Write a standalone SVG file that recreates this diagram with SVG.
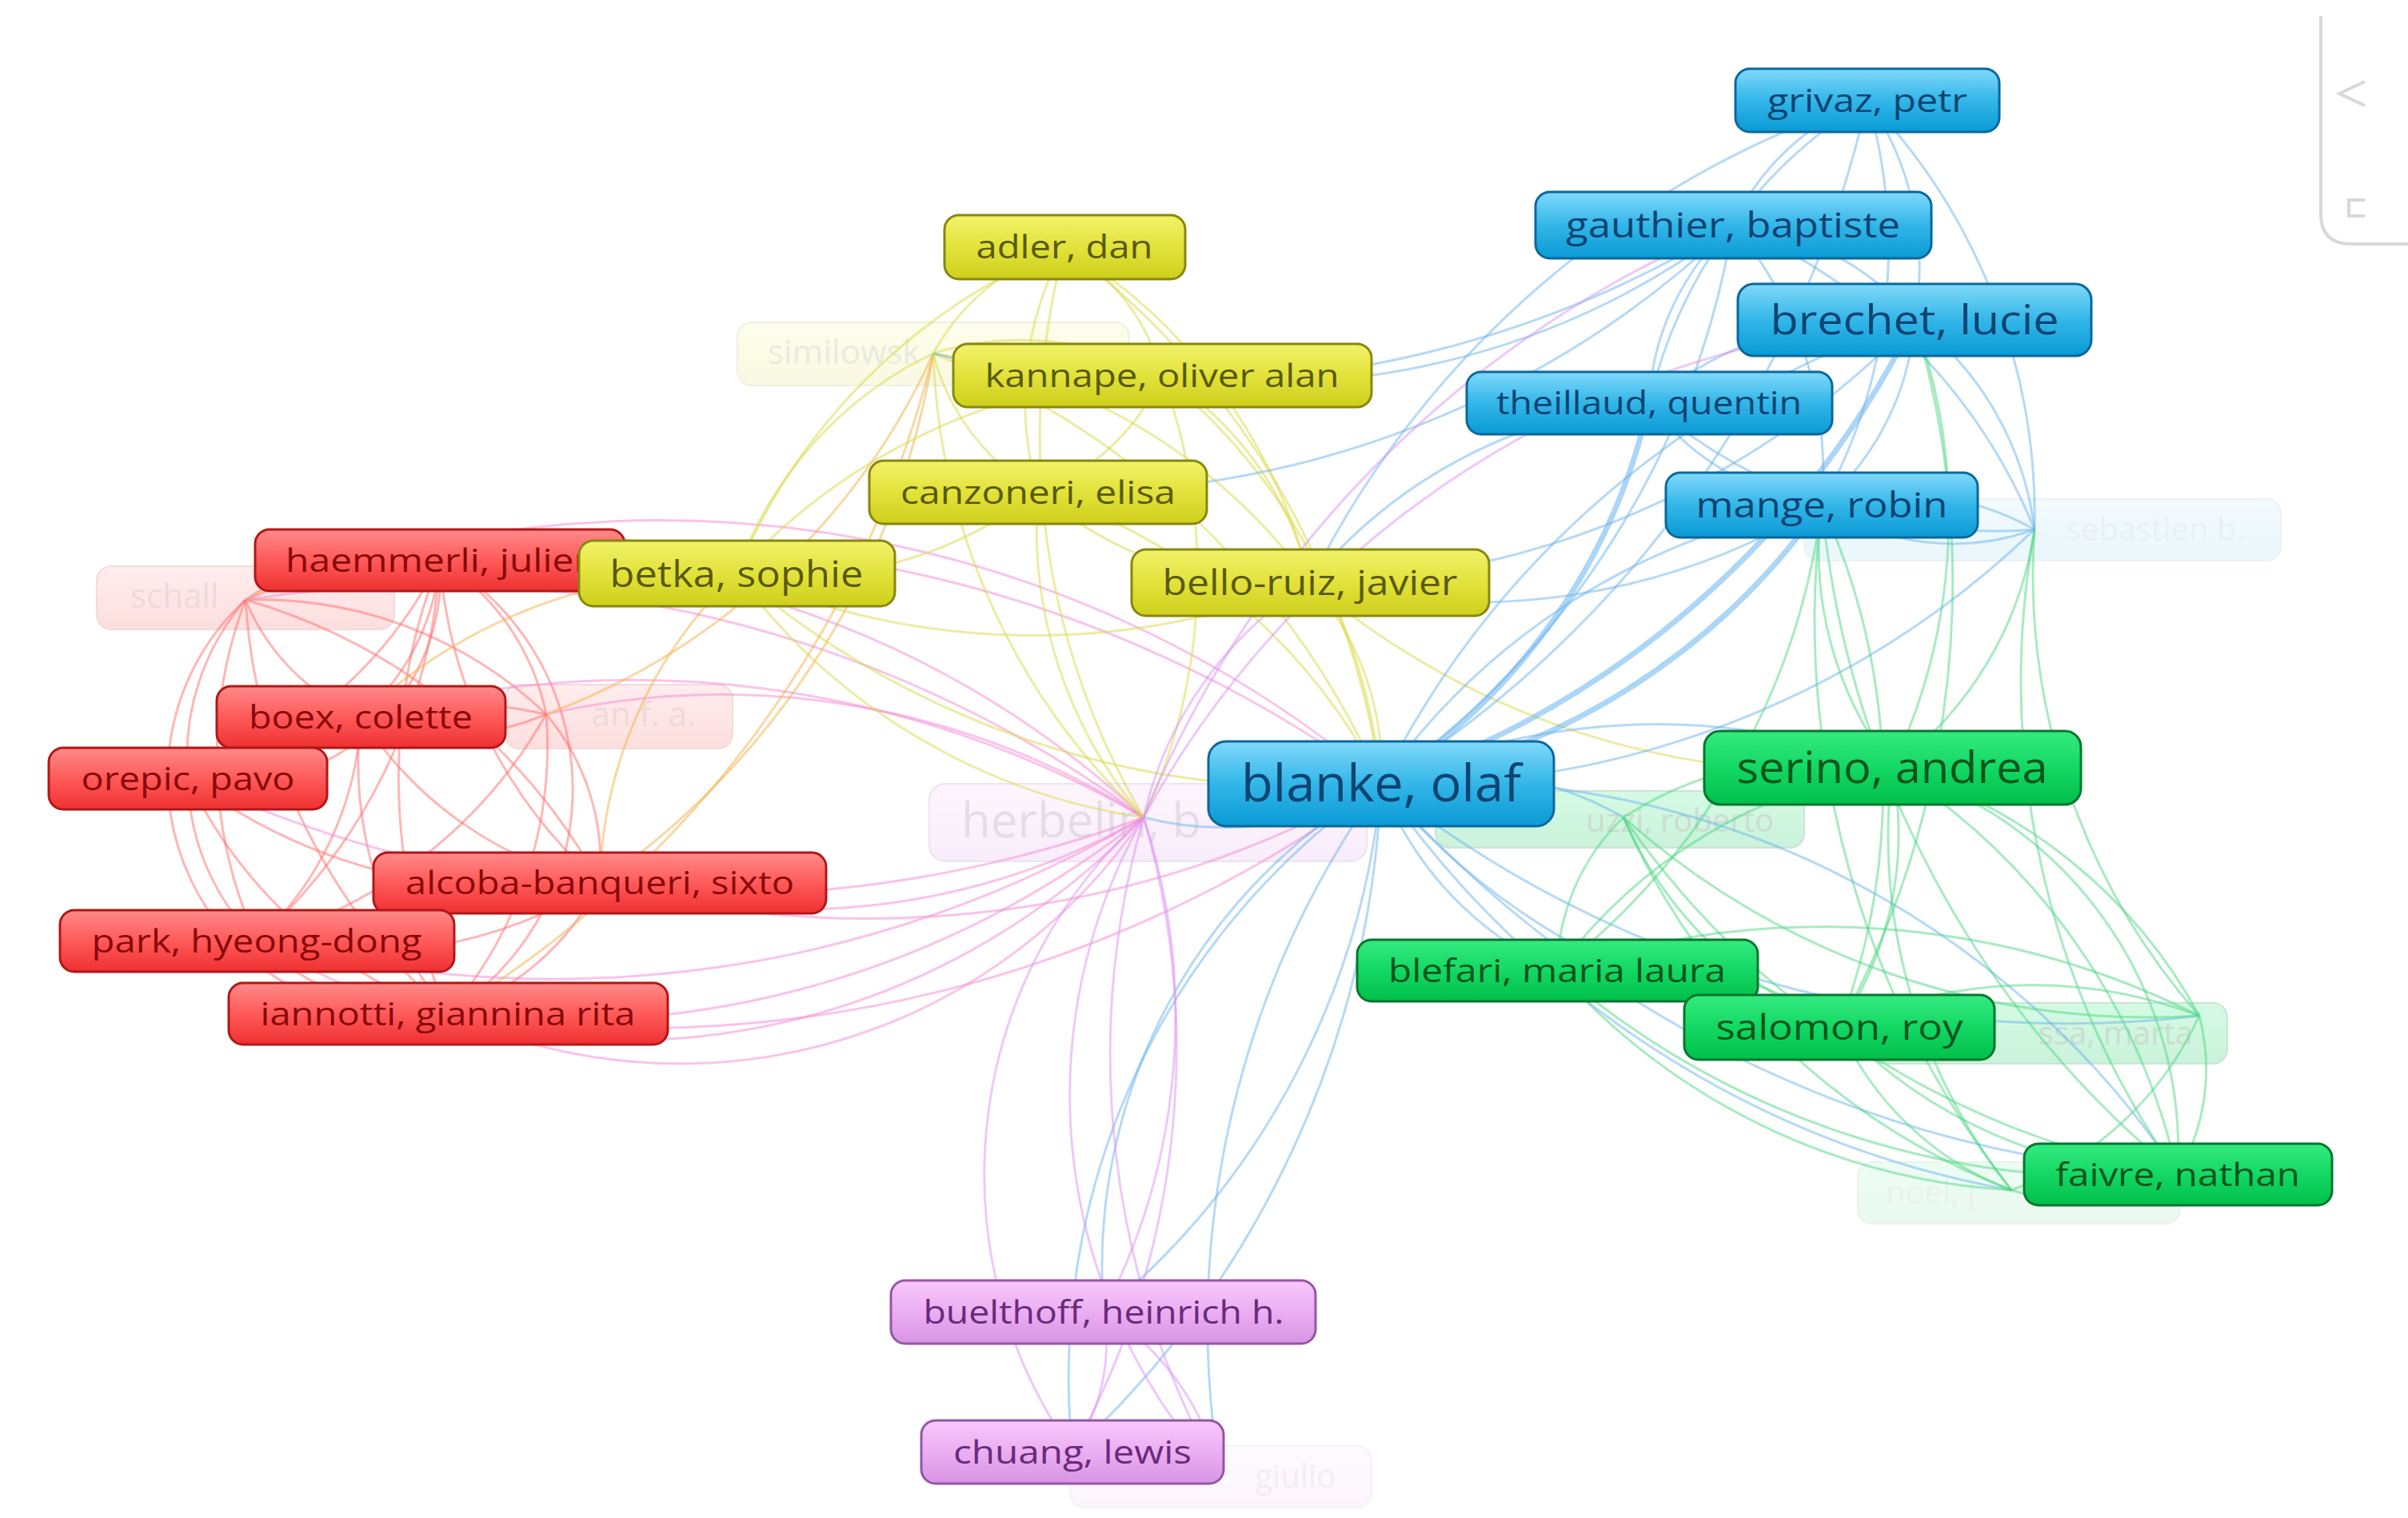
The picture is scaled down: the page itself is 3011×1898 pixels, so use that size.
<svg xmlns="http://www.w3.org/2000/svg" width="3011" height="1898" viewBox="0 0 3011 1898">
<defs>
<linearGradient id="gB" x1="0" y1="0" x2="0" y2="1"><stop offset="0" stop-color="#80d9fb"/><stop offset="0.5" stop-color="#33b6e8"/><stop offset="1" stop-color="#0a9ad6"/></linearGradient>
<linearGradient id="gY" x1="0" y1="0" x2="0" y2="1"><stop offset="0" stop-color="#f2f26a"/><stop offset="0.5" stop-color="#e2e23c"/><stop offset="1" stop-color="#cfcf1c"/></linearGradient>
<linearGradient id="gR" x1="0" y1="0" x2="0" y2="1"><stop offset="0" stop-color="#ff8a8a"/><stop offset="0.5" stop-color="#ff5a5a"/><stop offset="1" stop-color="#ee3030"/></linearGradient>
<linearGradient id="gG" x1="0" y1="0" x2="0" y2="1"><stop offset="0" stop-color="#34ea80"/><stop offset="0.5" stop-color="#14d864"/><stop offset="1" stop-color="#00bf4a"/></linearGradient>
<linearGradient id="gP" x1="0" y1="0" x2="0" y2="1"><stop offset="0" stop-color="#f8c8fb"/><stop offset="0.5" stop-color="#eaaef2"/><stop offset="1" stop-color="#d894e3"/></linearGradient>
</defs>
<style>
text { font-family: "Open Sans", "Noto Sans", "DejaVu Sans", sans-serif; text-anchor: middle; }
.node rect { stroke-width: 3; }
.blue rect { fill: url(#gB); stroke: #0b689c; }
.blue text { fill: #0c4472; }
.yellow rect { fill: url(#gY); stroke: #87870f; }
.yellow text { fill: #5a5a00; }
.red rect { fill: url(#gR); stroke: #b41616; }
.red text { fill: #8a0808; }
.green rect { fill: url(#gG); stroke: #08772e; }
.green text { fill: #03561c; }
.purple rect { fill: url(#gP); stroke: #9556a6; }
.purple text { fill: #6a2a7a; }
.faded rect { stroke-width: 2; }
.edges path { fill: none; stroke-width: 3; stroke-opacity: 0.5; }
.er { stroke: #ff6e6e; }
.epk { stroke: #f48ad6; }
.eo { stroke: #f2b24a; }
.ey { stroke: #d9d94a; }
.eb { stroke: #6cb4f0; }
.ebt { stroke: #5aaef0; stroke-width: 7 !important; }
.eg { stroke: #4fd884; }
.ep { stroke: #dc94f4; }
.ui { fill: none; stroke: #d8d8d8; stroke-width: 4; }
</style>
<rect width="3011" height="1898" fill="#ffffff"/>

<g id="ui-panel">
<path class="ui" d="M2902 20 L2902 268 Q2902 305 2940 305 L3011 305"/>
<polyline class="ui" points="2957,102 2925,117 2957,132"/>
<path class="ui" d="M2957 250 L2937 250 L2937 270 L2957 270"/>
</g>

<g id="faded-nodes">
<g id="n-similowsk" class="node faded yellow" opacity="0.12"><rect x="922" y="403" width="490" height="79" rx="18"/><text x="960" y="455" font-size="42" style="text-anchor:start">similowsk</text></g>
<g id="n-schall" class="node faded red" opacity="0.15"><rect x="121" y="708" width="372" height="79" rx="18"/><text x="163" y="760" font-size="42" style="text-anchor:start">schall</text></g>
<g id="n-anfa" class="node faded red" opacity="0.15"><rect x="631" y="856" width="285" height="80" rx="18"/><text x="870" y="908" font-size="42" style="text-anchor:end">an f. a.</text></g>
<g id="n-herbelin" class="node faded purple" opacity="0.16"><rect x="1162" y="980" width="547" height="97" rx="20"/><text x="1202" y="1047" font-size="60" style="text-anchor:start">herbelin, b</text></g>
<g id="n-uzzi" class="node faded green" opacity="0.2"><rect x="1795" y="989" width="461" height="71" rx="18"/><text x="2218" y="1040" font-size="40" style="text-anchor:end">uzzi, roberto</text></g>
<g id="n-sebastien" class="node faded blue" opacity="0.08"><rect x="2256" y="624" width="596" height="77" rx="18"/><text x="2807" y="676" font-size="40" style="text-anchor:end">sebastien b.</text></g>
<g id="n-marta" class="node faded green" opacity="0.2"><rect x="2340" y="1254" width="445" height="76" rx="18"/><text x="2742" y="1306" font-size="40" style="text-anchor:end">ssa, marta</text></g>
<g id="n-noel" class="node faded green" opacity="0.08"><rect x="2323" y="1453" width="403" height="77" rx="18"/><text x="2358" y="1505" font-size="40" style="text-anchor:start">noel, j</text></g>
<g id="n-giulio" class="node faded purple" opacity="0.08"><rect x="1338" y="1808" width="377" height="77" rx="18"/><text x="1670" y="1860" font-size="40" style="text-anchor:end">giulio</text></g>
</g>

<g id="connectors" class="edges">
<path class="er" d="M550 700 A290 290 0 0 1 451 896"/>
<path class="er" d="M550 700 A540 540 0 0 1 235 973"/>
<path class="er" d="M550 700 A590 590 0 0 0 750 1104"/>
<path class="er" d="M550 700 A690 690 0 0 1 321 1176"/>
<path class="er" d="M550 700 A740 740 0 0 0 560 1267"/>
<path class="er" d="M550 700 A320 320 0 0 0 307 750"/>
<path class="er" d="M550 700 A300 300 0 0 1 683 893"/>
<path class="er" d="M451 896 A300 300 0 0 1 235 973"/>
<path class="er" d="M451 896 A470 470 0 0 0 750 1104"/>
<path class="er" d="M451 896 A400 400 0 0 1 321 1176"/>
<path class="er" d="M451 896 A500 500 0 0 0 560 1267"/>
<path class="er" d="M451 896 A270 270 0 0 1 307 750"/>
<path class="er" d="M451 896 A300 300 0 0 0 683 893"/>
<path class="er" d="M235 973 A690 690 0 0 0 750 1104"/>
<path class="er" d="M235 973 A290 290 0 0 0 321 1176"/>
<path class="er" d="M235 973 A570 570 0 0 0 560 1267"/>
<path class="er" d="M235 973 A300 300 0 0 1 307 750"/>
<path class="er" d="M235 973 A590 590 0 0 1 683 893"/>
<path class="er" d="M750 1104 A565 565 0 0 1 321 1176"/>
<path class="er" d="M750 1104 A325 325 0 0 1 560 1267"/>
<path class="er" d="M750 1104 A740 740 0 0 0 307 750"/>
<path class="er" d="M750 1104 A290 290 0 0 0 683 893"/>
<path class="er" d="M321 1176 A330 330 0 0 0 560 1267"/>
<path class="er" d="M321 1176 A555 555 0 0 1 307 750"/>
<path class="er" d="M321 1176 A600 600 0 0 0 683 893"/>
<path class="er" d="M560 1267 A750 750 0 0 1 307 750"/>
<path class="er" d="M560 1267 A510 510 0 0 0 683 893"/>
<path class="er" d="M307 750 A520 520 0 0 1 683 893"/>
<path class="er" d="M307 750 A300 300 0 0 0 560 1267"/>
<path class="er" d="M550 700 A330 330 0 0 1 560 1267"/>
<path class="er" d="M235 973 A260 260 0 0 0 550 700"/>
<path class="epk" d="M550 700 A1200 1200 0 0 1 1430 1022"/>
<path class="epk" d="M451 896 A1280 1280 0 0 1 1430 1022"/>
<path class="epk" d="M235 973 A1550 1550 0 0 0 1430 1022"/>
<path class="epk" d="M750 1104 A890 890 0 0 0 1430 1022"/>
<path class="epk" d="M321 1176 A1450 1450 0 0 0 1430 1022"/>
<path class="epk" d="M560 1267 A1170 1170 0 0 0 1430 1022"/>
<path class="epk" d="M307 750 A1500 1500 0 0 1 1430 1022"/>
<path class="epk" d="M683 893 A985 985 0 0 1 1430 1022"/>
<path class="epk" d="M560 1267 A700 700 0 0 0 1430 1022"/>
<path class="epk" d="M321 1176 A900 900 0 0 0 1430 1022"/>
<path class="epk" d="M550 700 A1570 1570 0 0 1 1727 980"/>
<path class="epk" d="M307 750 A1400 1400 0 0 1 1727 980"/>
<path class="epk" d="M560 1267 A1560 1560 0 0 0 1727 980"/>
<path class="epk" d="M750 1104 A1300 1300 0 0 0 1727 980"/>
<path class="eo" d="M550 700 A480 480 0 0 1 921 717"/>
<path class="eo" d="M683 893 A860 860 0 0 0 1167 442"/>
<path class="eo" d="M750 1104 A1000 1000 0 0 0 1167 442"/>
<path class="eo" d="M750 1104 A550 550 0 0 1 921 717"/>
<path class="eo" d="M560 1267 A1330 1330 0 0 0 1167 442"/>
<path class="eo" d="M307 750 A800 800 0 0 1 921 717"/>
<path class="eo" d="M451 896 A650 650 0 0 1 921 717"/>
<path class="ey" d="M1331 309 A260 260 0 0 1 1453 469"/>
<path class="ey" d="M1331 309 A400 400 0 0 0 1298 615"/>
<path class="ey" d="M1331 309 A275 275 0 0 0 1167 442"/>
<path class="ey" d="M1331 309 A675 675 0 0 1 1638 728"/>
<path class="ey" d="M1331 309 A750 750 0 0 0 921 717"/>
<path class="ey" d="M1453 469 A275 275 0 0 1 1298 615"/>
<path class="ey" d="M1453 469 A375 375 0 0 0 1167 442"/>
<path class="ey" d="M1453 469 A415 415 0 0 1 1638 728"/>
<path class="ey" d="M1453 469 A760 760 0 0 0 921 717"/>
<path class="ey" d="M1298 615 A280 280 0 0 1 1167 442"/>
<path class="ey" d="M1298 615 A465 465 0 0 0 1638 728"/>
<path class="ey" d="M1298 615 A510 510 0 0 1 921 717"/>
<path class="ey" d="M921 717 A480 480 0 0 1 1167 442"/>
<path class="ey" d="M921 717 A930 930 0 0 0 1638 728"/>
<path class="ey" d="M1167 442 A715 715 0 0 1 1638 728"/>
<path class="ey" d="M1331 309 A1010 1010 0 0 1 1727 980"/>
<path class="ey" d="M1453 469 A750 750 0 0 1 1727 980"/>
<path class="ey" d="M1298 615 A730 730 0 0 1 1727 980"/>
<path class="ey" d="M921 717 A1100 1100 0 0 0 1727 980"/>
<path class="ey" d="M1638 728 A350 350 0 0 1 1727 980"/>
<path class="ey" d="M1167 442 A1010 1010 0 0 1 1727 980"/>
<path class="ey" d="M1638 728 A990 990 0 0 0 2366 960"/>
<path class="ey" d="M921 717 A770 770 0 0 0 1430 1022"/>
<path class="ey" d="M1298 615 A555 555 0 0 0 1430 1022"/>
<path class="ey" d="M1453 469 A720 720 0 0 1 1430 1022"/>
<path class="ey" d="M1331 309 A935 935 0 0 0 1430 1022"/>
<path class="ey" d="M1167 442 A830 830 0 0 0 1430 1022"/>
<path class="eb" d="M1727 980 A1360 1360 0 0 0 2335 125"/>
<path class="eb" d="M1727 980 A1070 1070 0 0 0 2167 281"/>
<path class="eb ebt" d="M1727 980 A1150 1150 0 0 0 2394 400"/>
<path class="eb ebt" d="M1727 980 A755 755 0 0 0 2062 504"/>
<path class="eb ebt" d="M1727 980 A850 850 0 0 0 2278 631"/>
<path class="eb" d="M1727 980 A1140 1140 0 0 0 2544 662"/>
<path class="eb" d="M1727 980 A1150 1150 0 0 1 2394 400"/>
<path class="eb" d="M1727 980 A850 850 0 0 1 2278 631"/>
<path class="eb" d="M2335 125 A300 300 0 0 0 2167 281"/>
<path class="eb" d="M2335 125 A365 365 0 0 1 2394 400"/>
<path class="eb" d="M2335 125 A610 610 0 0 0 2062 504"/>
<path class="eb" d="M2335 125 A660 660 0 0 1 2278 631"/>
<path class="eb" d="M2335 125 A750 750 0 0 1 2544 662"/>
<path class="eb" d="M2167 281 A335 335 0 0 1 2394 400"/>
<path class="eb" d="M2167 281 A320 320 0 0 0 2062 504"/>
<path class="eb" d="M2167 281 A480 480 0 0 1 2278 631"/>
<path class="eb" d="M2167 281 A700 700 0 0 1 2544 662"/>
<path class="eb" d="M2394 400 A450 450 0 0 0 2062 504"/>
<path class="eb" d="M2394 400 A335 335 0 0 1 2278 631"/>
<path class="eb" d="M2394 400 A390 390 0 0 1 2544 662"/>
<path class="eb" d="M2062 504 A325 325 0 0 0 2278 631"/>
<path class="eb" d="M2062 504 A660 660 0 0 0 2544 662"/>
<path class="eb" d="M2278 631 A350 350 0 0 1 2544 662"/>
<path class="eb" d="M2278 631 A300 300 0 0 0 2544 662"/>
<path class="eb" d="M1727 980 A970 970 0 0 1 1380 1640"/>
<path class="eb" d="M1727 980 A1200 1200 0 0 1 1341 1815"/>
<path class="eb" d="M1727 980 A1160 1160 0 0 0 1526 1847"/>
<path class="eb" d="M1727 980 A390 390 0 0 1 1430 1022"/>
<path class="eb" d="M1727 980 A700 700 0 0 0 1380 1640"/>
<path class="eb" d="M1727 980 A900 900 0 0 0 1341 1815"/>
<path class="eb" d="M1727 980 A830 830 0 0 1 2366 960"/>
<path class="eb" d="M1727 980 A420 420 0 0 0 1947 1213"/>
<path class="eb" d="M1727 980 A845 845 0 0 0 2300 1284"/>
<path class="eb" d="M1727 980 A1440 1440 0 0 0 2723 1468"/>
<path class="eb" d="M1727 980 A1220 1220 0 0 0 2515 1488"/>
<path class="eb" d="M1727 980 A1380 1380 0 0 0 2750 1270"/>
<path class="eb" d="M1727 980 A400 400 0 0 1 2030 1022"/>
<path class="eb" d="M1727 980 A1100 1100 0 0 1 2723 1468"/>
<path class="eb" d="M2167 281 A1210 1210 0 0 1 1298 615"/>
<path class="eb" d="M2167 281 A960 960 0 0 1 1453 469"/>
<path class="eb" d="M2335 125 A1200 1200 0 0 0 1638 728"/>
<path class="eb" d="M2394 400 A1070 1070 0 0 1 1638 728"/>
<path class="eb" d="M2062 504 A620 620 0 0 0 1638 728"/>
<path class="eb" d="M2278 631 A840 840 0 0 1 1638 728"/>
<path class="eb" d="M2167 281 A1320 1320 0 0 1 1167 442"/>
<path class="eg" d="M2366 960 A640 640 0 0 0 1947 1213"/>
<path class="eg" d="M2366 960 A430 430 0 0 1 2300 1284"/>
<path class="eg" d="M2366 960 A810 810 0 0 1 2723 1468"/>
<path class="eg" d="M2366 960 A445 445 0 0 0 2030 1022"/>
<path class="eg" d="M2366 960 A640 640 0 0 1 2750 1270"/>
<path class="eg" d="M2366 960 A715 715 0 0 0 2515 1488"/>
<path class="eg" d="M1947 1213 A470 470 0 0 1 2300 1284"/>
<path class="eg" d="M1947 1213 A1060 1060 0 0 0 2723 1468"/>
<path class="eg" d="M1947 1213 A270 270 0 0 1 2030 1022"/>
<path class="eg" d="M1947 1213 A1050 1050 0 0 1 2750 1270"/>
<path class="eg" d="M1947 1213 A820 820 0 0 0 2515 1488"/>
<path class="eg" d="M2300 1284 A600 600 0 0 0 2723 1468"/>
<path class="eg" d="M2300 1284 A490 490 0 0 1 2030 1022"/>
<path class="eg" d="M2300 1284 A585 585 0 0 1 2750 1270"/>
<path class="eg" d="M2300 1284 A385 385 0 0 0 2515 1488"/>
<path class="eg" d="M2723 1468 A260 260 0 0 0 2750 1270"/>
<path class="eg" d="M2723 1468 A270 270 0 0 1 2515 1488"/>
<path class="eg" d="M2723 1468 A1070 1070 0 0 1 2030 1022"/>
<path class="eg" d="M2750 1270 A415 415 0 0 1 2515 1488"/>
<path class="eg" d="M2030 1022 A990 990 0 0 0 2750 1270"/>
<path class="eg" d="M2030 1022 A875 875 0 0 0 2515 1488"/>
<path class="eg" d="M2366 960 A500 500 0 0 1 2723 1468"/>
<path class="eg" d="M2366 960 A445 445 0 0 1 2278 631"/>
<path class="eg" d="M2366 960 A730 730 0 0 0 2394 400"/>
<path class="eg" d="M2723 1468 A1230 1230 0 0 1 2278 631"/>
<path class="eg" d="M2723 1468 A1070 1070 0 0 1 2544 662"/>
<path class="eg" d="M2750 1270 A835 835 0 0 1 2544 662"/>
<path class="eg" d="M2366 960 A450 450 0 0 0 2544 662"/>
<path class="eg" d="M2300 1284 A850 850 0 0 0 2278 631"/>
<path class="eg" d="M1947 1213 A870 870 0 0 0 2278 631"/>
<path class="eg" d="M2515 1488 A1160 1160 0 0 1 2278 631"/>
<path class="eg" d="M2300 1284 A1160 1160 0 0 0 2394 400"/>
<path class="ep" d="M1430 1022 A800 800 0 0 1 1380 1640"/>
<path class="ep" d="M1430 1022 A600 600 0 0 0 1341 1815"/>
<path class="ep" d="M1430 1022 A1080 1080 0 0 0 1526 1847"/>
<path class="ep" d="M1430 1022 A1040 1040 0 0 1 1341 1815"/>
<path class="ep" d="M1380 1640 A235 235 0 0 1 1341 1815"/>
<path class="ep" d="M1380 1640 A330 330 0 0 1 1526 1847"/>
<path class="ep" d="M1341 1815 A245 245 0 0 0 1526 1847"/>
<path class="ep" d="M1430 1022 A470 470 0 0 1 1638 728"/>
<path class="ep" d="M1430 1022 A1360 1360 0 0 1 2167 281"/>
<path class="ep" d="M1430 1022 A1200 1200 0 0 1 2394 400"/>
<path class="ep" d="M1430 1022 A700 700 0 0 0 1526 1847"/>
</g>

<g id="nodes">
<g id="n-grivaz" class="node blue"><rect x="2170" y="86" width="330" height="79" rx="18"/><text x="2335" y="140" font-size="40" textLength="250" lengthAdjust="spacingAndGlyphs">grivaz, petr</text></g>
<g id="n-gauthier" class="node blue"><rect x="1920" y="240" width="495" height="83" rx="18"/><text x="2167" y="297" font-size="44" textLength="418" lengthAdjust="spacingAndGlyphs">gauthier, baptiste</text></g>
<g id="n-brechet" class="node blue"><rect x="2173" y="355" width="442" height="90" rx="20"/><text x="2394" y="418" font-size="52" textLength="361" lengthAdjust="spacingAndGlyphs">brechet, lucie</text></g>
<g id="n-theillaud" class="node blue"><rect x="1834" y="465" width="457" height="78" rx="18"/><text x="2062" y="518" font-size="40" textLength="382" lengthAdjust="spacingAndGlyphs">theillaud, quentin</text></g>
<g id="n-mange" class="node blue"><rect x="2083" y="591" width="390" height="81" rx="18"/><text x="2278" y="647" font-size="44" textLength="315" lengthAdjust="spacingAndGlyphs">mange, robin</text></g>
<g id="n-blanke" class="node blue"><rect x="1511" y="927" width="432" height="106" rx="22"/><text x="1727" y="1002" font-size="64" textLength="350" lengthAdjust="spacingAndGlyphs">blanke, olaf</text></g>
<g id="n-adler" class="node yellow"><rect x="1181" y="269" width="301" height="80" rx="18"/><text x="1331" y="323" font-size="40" textLength="221" lengthAdjust="spacingAndGlyphs">adler, dan</text></g>
<g id="n-kannape" class="node yellow"><rect x="1192" y="430" width="523" height="79" rx="18"/><text x="1453" y="484" font-size="40" textLength="443" lengthAdjust="spacingAndGlyphs">kannape, oliver alan</text></g>
<g id="n-canzoneri" class="node yellow"><rect x="1087" y="576" width="422" height="79" rx="18"/><text x="1298" y="630" font-size="40" textLength="344" lengthAdjust="spacingAndGlyphs">canzoneri, elisa</text></g>
<g id="n-haemmerli" class="node red"><rect x="319" y="662" width="462" height="77" rx="18"/><text x="357" y="715" font-size="40" style="text-anchor:start" textLength="390" lengthAdjust="spacingAndGlyphs">haemmerli, julien</text></g>
<g id="n-betka" class="node yellow"><rect x="724" y="676" width="395" height="82" rx="18"/><text x="921" y="734" font-size="46" textLength="317" lengthAdjust="spacingAndGlyphs">betka, sophie</text></g>
<g id="n-bello-ruiz" class="node yellow"><rect x="1415" y="687" width="447" height="83" rx="18"/><text x="1638" y="744" font-size="44" textLength="369" lengthAdjust="spacingAndGlyphs">bello-ruiz, javier</text></g>
<g id="n-boex" class="node red"><rect x="271" y="858" width="361" height="77" rx="18"/><text x="451" y="911" font-size="40" textLength="280" lengthAdjust="spacingAndGlyphs">boex, colette</text></g>
<g id="n-orepic" class="node red"><rect x="61" y="935" width="348" height="77" rx="18"/><text x="235" y="988" font-size="40" textLength="267" lengthAdjust="spacingAndGlyphs">orepic, pavo</text></g>
<g id="n-alcoba" class="node red"><rect x="467" y="1066" width="566" height="76" rx="18"/><text x="750" y="1118" font-size="40" textLength="486" lengthAdjust="spacingAndGlyphs">alcoba-banqueri, sixto</text></g>
<g id="n-park" class="node red"><rect x="75" y="1138" width="493" height="77" rx="18"/><text x="321" y="1191" font-size="40" textLength="413" lengthAdjust="spacingAndGlyphs">park, hyeong-dong</text></g>
<g id="n-iannotti" class="node red"><rect x="286" y="1229" width="549" height="77" rx="18"/><text x="560" y="1282" font-size="40" textLength="469" lengthAdjust="spacingAndGlyphs">iannotti, giannina rita</text></g>
<g id="n-serino" class="node green"><rect x="2131" y="914" width="471" height="92" rx="20"/><text x="2366" y="979" font-size="54" textLength="389" lengthAdjust="spacingAndGlyphs">serino, andrea</text></g>
<g id="n-blefari" class="node green"><rect x="1697" y="1175" width="501" height="77" rx="18"/><text x="1947" y="1228" font-size="40" textLength="422" lengthAdjust="spacingAndGlyphs">blefari, maria laura</text></g>
<g id="n-salomon" class="node green"><rect x="2106" y="1244" width="388" height="81" rx="18"/><text x="2300" y="1300" font-size="44" textLength="309" lengthAdjust="spacingAndGlyphs">salomon, roy</text></g>
<g id="n-faivre" class="node green"><rect x="2531" y="1430" width="385" height="77" rx="18"/><text x="2723" y="1483" font-size="40" textLength="306" lengthAdjust="spacingAndGlyphs">faivre, nathan</text></g>
<g id="n-buelthoff" class="node purple"><rect x="1114" y="1601" width="531" height="79" rx="18"/><text x="1380" y="1655" font-size="40" textLength="451" lengthAdjust="spacingAndGlyphs">buelthoff, heinrich h.</text></g>
<g id="n-chuang" class="node purple"><rect x="1152" y="1776" width="378" height="79" rx="18"/><text x="1341" y="1830" font-size="40" textLength="298" lengthAdjust="spacingAndGlyphs">chuang, lewis</text></g>
</g>
</svg>
